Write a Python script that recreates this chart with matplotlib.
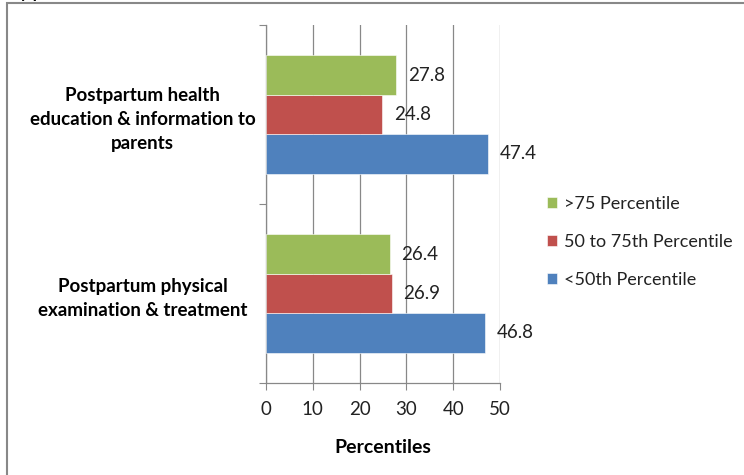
import matplotlib
matplotlib.use("Agg")
import matplotlib.pyplot as plt
from matplotlib.patches import Rectangle
import numpy as np

categories = ["Postpartum physical\nexamination & treatment",
              "Postpartum health\neducation & information to\nparents"]
series_names = [">75 Percentile", "50 to 75th Percentile", "<50th Percentile"]
above_75 = [26.4, 27.8]
p50_to_75 = [26.9, 24.8]
below_50 = [46.8, 47.4]
x_ticks = [0, 10, 20, 30, 40, 50]

colors = {">75 Percentile": "#9BBB59",
          "50 to 75th Percentile": "#C0504D",
          "<50th Percentile": "#4F81BD"}

plt.rcParams["font.family"] = ["Lato", "DejaVu Sans"]

W, H = 744, 475
fig = plt.figure(figsize=(W / 100, H / 100), dpi=100)
ax = fig.add_axes([266 / W, 1 - 383 / H, (500 - 266) / W, (383 - 25) / H])

bar_h = 0.22
y = np.arange(len(categories))
series = [(series_names[2], below_50, -bar_h),
          (series_names[1], p50_to_75, 0.0),
          (series_names[0], above_75, bar_h)]
handles = {}
for name, vals, off in series:
    bars = ax.barh(y + off, vals, height=bar_h, color=colors[name],
                   edgecolor="white", linewidth=0.4, zorder=3)
    handles[name] = bars
    for yi, v in zip(y + off, vals):
        ax.text(v + 2.5, yi, f"{v:.1f}", va="center", ha="left",
                fontsize=13.5, color="#222222", zorder=4)

ax.set_xlim(0, 50)
ax.set_ylim(-0.5, 1.5)
ax.set_xticks(x_ticks)
ax.set_xticklabels([str(t) for t in x_ticks], fontsize=13.5, color="#222222")
ax.set_yticks([-0.5, 0.5, 1.5])
ax.set_yticklabels([])
ax.set_yticks(y, minor=True)
ax.set_yticklabels(categories, minor=True, fontsize=13.5, fontweight="bold",
                   ha="center", multialignment="center", linespacing=1.5)
ax.tick_params(axis="y", which="minor", length=0, pad=89)
ax.tick_params(axis="y", which="major", length=5, direction="out",
               color="#888888")
ax.tick_params(axis="x", length=5, direction="out", color="#888888", pad=8)
ax.grid(axis="x", color="#888888", linewidth=0.9, zorder=0)
for s in ["top", "right"]:
    ax.spines[s].set_visible(False)
for s in ["left", "bottom"]:
    ax.spines[s].set_color("#888888")
    ax.spines[s].set_linewidth(0.9)

ax.set_xlabel("Percentiles", fontsize=14, fontweight="bold", labelpad=15)

leg = fig.legend([handles[n] for n in series_names], series_names,
                 loc="upper left", bbox_to_anchor=(531 / W, 1 - 180 / H),
                 frameon=False, fontsize=13, handlelength=0.55,
                 handleheight=0.55, handletextpad=0.35, labelspacing=1.2)
for t in leg.get_texts():
    t.set_color("#222222")

# outer frame of the chart area
fig.patches.append(Rectangle((7 / W, -0.1), 1.2, 1 - 3 / H + 0.1,
                             transform=fig.transFigure, fill=False,
                             edgecolor="#888888", linewidth=1.5))
fig.text(20 / W, 1 + 2 / H, "y p", fontsize=12, fontweight="bold",
         va="baseline", ha="left")

fig.savefig("out.png", dpi=100)
